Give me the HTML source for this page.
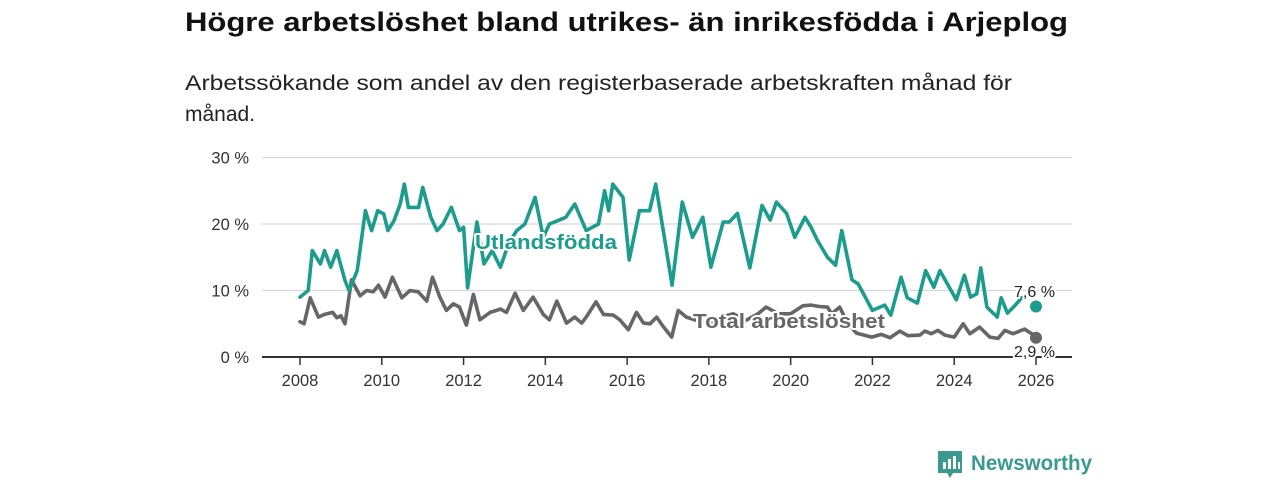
<!DOCTYPE html>
<html><head><meta charset="utf-8"><style>
html,body{margin:0;padding:0;background:#fff;}
svg{display:block;font-family:"Liberation Sans",sans-serif;}
</style></head><body>
<svg id="chart" width="1280" height="480" viewBox="0 0 1280 480">
<text x="185" y="31" font-size="27" font-weight="bold" fill="#111" textLength="883" lengthAdjust="spacingAndGlyphs">Högre arbetslöshet bland utrikes- än inrikesfödda i Arjeplog</text>
<text x="185" y="90" font-size="21" fill="#222" textLength="827" lengthAdjust="spacingAndGlyphs">Arbetssökande som andel av den registerbaserade arbetskraften månad för</text>
<text x="185" y="121" font-size="21" fill="#222">månad.</text>
<g id="grid"></g>
<g id="series"></g>
<g id="labels"></g>
<g>
<path d="M938 451 h24 v22 h-9 l-3 5 l-3 -5 h-9 z" fill="#3a9a8f"/>
<rect x="943" y="462" width="3" height="7" fill="#fff"/><rect x="948" y="459" width="3" height="10" fill="#fff"/><rect x="953" y="456" width="3" height="13" fill="#fff"/><rect x="958" y="462" width="2" height="7" fill="#fff"/>
<text x="971" y="470" font-size="21" font-weight="bold" fill="#3a9a8f" textLength="121" lengthAdjust="spacingAndGlyphs">Newsworthy</text>
</g>
</svg>
<script>
const yTicks=[0,10,20,30];
const yTickLabels=["0 %","10 %","20 %","30 %"];
const xTicks=[2008,2010,2012,2014,2016,2018,2020,2022,2024,2026];
const foreignX=[2008.0,2008.2,2008.3,2008.5,2008.6,2008.75,2008.9,2009.1,2009.2,2009.4,2009.6,2009.75,2009.9,2010.05,2010.15,2010.3,2010.45,2010.55,2010.65,2010.9,2011.0,2011.2,2011.35,2011.5,2011.7,2011.9,2012.0,2012.1,2012.33,2012.5,2012.7,2012.9,2013.1,2013.3,2013.5,2013.75,2013.95,2014.1,2014.3,2014.5,2014.72,2015.0,2015.3,2015.45,2015.55,2015.65,2015.9,2016.05,2016.3,2016.55,2016.7,2017.1,2017.35,2017.6,2017.85,2018.05,2018.35,2018.5,2018.7,2019.0,2019.3,2019.5,2019.65,2019.9,2020.1,2020.35,2020.5,2020.65,2020.9,2021.1,2021.25,2021.5,2021.65,2022.0,2022.3,2022.45,2022.7,2022.85,2023.1,2023.3,2023.5,2023.65,2024.05,2024.25,2024.4,2024.55,2024.65,2024.8,2025.05,2025.15,2025.3,2025.45,2025.65];
const foreignY=[9.0,10,16,14,16,13.5,16,11.5,10,13,22,19,22,21.5,19,20.5,23,26,22.5,22.5,25.5,21,19,20,22.5,19,19.5,10.4,20.3,14,16,13.5,17,19,20,24,18,20,20.5,21,23,19,20,25,22,26,24,14.6,22,22,26,10.8,23.3,18,21,13.5,20.3,20.3,21.6,13.4,22.8,20.6,23.3,21.6,18,21,19.5,17.6,15,13.8,19,11.6,11,7,7.8,6.3,12,8.9,8.1,13,10.5,13,8.6,12.3,9,9.5,13.4,7.5,6,8.9,6.6,7.5,8.9];
const totalX=[2008.0,2008.1,2008.25,2008.45,2008.6,2008.8,2008.9,2009.0,2009.1,2009.26,2009.47,2009.63,2009.79,2009.92,2010.08,2010.26,2010.49,2010.69,2010.89,2011.1,2011.24,2011.42,2011.58,2011.75,2011.9,2012.07,2012.24,2012.4,2012.65,2012.9,2013.05,2013.26,2013.46,2013.7,2013.95,2014.1,2014.28,2014.52,2014.72,2014.89,2015.0,2015.24,2015.42,2015.66,2015.82,2016.03,2016.23,2016.4,2016.56,2016.72,2016.88,2017.09,2017.25,2017.45,2017.7,2018.0,2018.3,2018.6,2018.9,2019.2,2019.4,2019.7,2020.0,2020.3,2020.5,2020.7,2020.9,2021.0,2021.2,2021.4,2021.61,2021.98,2022.22,2022.43,2022.67,2022.87,2023.16,2023.28,2023.44,2023.6,2023.77,2024.0,2024.22,2024.38,2024.62,2024.87,2025.07,2025.24,2025.44,2025.72,2025.92];
const totalY=[5.3,5,8.9,6,6.4,6.7,5.9,6.2,5,11.6,9.2,10,9.8,10.8,9,12,8.9,10,9.8,8.4,12,9,7,8,7.5,4.8,9.4,5.6,6.7,7.2,6.7,9.6,7,9,6.4,5.6,8.4,5.1,6,5.1,6,8.3,6.4,6.3,5.6,4.1,6.7,5.1,5,6,4.6,3,7,6,5.5,5,6,6.5,5.5,6.5,7.5,6.5,6.5,7.7,7.8,7.6,7.5,6.5,7.5,5,3.6,3.0,3.4,2.9,3.9,3.2,3.3,3.9,3.5,4.0,3.3,3.0,5.0,3.5,4.5,3.0,2.8,4.0,3.5,4.2,3.4];
const lastX=2026.0;
const lastForeign=7.6;
const lastTotal=2.9;
const lastForeignLabel="7,6 %";
const lastTotalLabel="2,9 %";

const NS="http://www.w3.org/2000/svg";
const x=v=>300+(v-2008)*(736/18);
const y=v=>357-v*6.65;
function mk(tag,attrs,parent){const e=document.createElementNS(NS,tag);for(const k in attrs)e.setAttribute(k,attrs[k]);parent.appendChild(e);return e;}
const grid=document.getElementById('grid'),ser=document.getElementById('series'),lab=document.getElementById('labels');
yTicks.forEach((t,i)=>{
  if(t>0){const l=mk('line',{x1:262,x2:1072,y1:y(t),y2:y(t),stroke:'#d8d8d8','stroke-width':1.3},grid);
  
  }
  const tx=mk('text',{x:249,y:y(t)+6,'font-size':16.5,fill:'#333','text-anchor':'end'},grid);
  tx.textContent=yTickLabels[i];
  
  
});
xTicks.forEach(t=>{
  const l=mk('line',{x1:x(t),x2:x(t),y1:357,y2:365,stroke:'#333','stroke-width':1.5},grid);
  
  
  const tx=mk('text',{x:x(t),y:386,'font-size':16.5,fill:'#333','text-anchor':'middle'},grid);
  tx.textContent=t;
  
  
});
function line(xs,ys,col,name){
  const d=xs.map((v,i)=>(i?'L':'M')+x(v).toFixed(1)+' '+y(ys[i]).toFixed(1)).join(' ');
  const p=mk('path',{d:d,fill:'none',stroke:col,'stroke-width':3.6,'stroke-linejoin':'round','stroke-linecap':'round'},ser);
  
  
}
line(totalX,totalY,'#67656a','total-unemployment-line');
line(foreignX,foreignY,'#1b9c8d','foreign-born-line');
const ax=mk('line',{x1:262,x2:1072,y1:357,y2:357,stroke:'#333','stroke-width':2},grid);


const d1=mk('circle',{cx:x(lastX),cy:y(lastForeign),r:6,fill:'#1b9c8d'},ser);


const d2=mk('circle',{cx:x(lastX),cy:y(lastTotal),r:6,fill:'#67656a'},ser);


function label(txt,xx,yy,col,size,bold,name,len){
  const a={x:xx,y:yy,'font-size':size,fill:col,'font-weight':bold?'bold':'normal',stroke:'#fff','stroke-width':4,'paint-order':'stroke','stroke-linejoin':'round'};
  if(len){a.textLength=len;a.lengthAdjust='spacingAndGlyphs';}
  const t=mk('text',a,lab);
  t.textContent=txt;
  
  
}
label('Utlandsfödda',475,249,'#1b9c8d',20,true,'foreign-born-series-label',142);
label('Total arbetslöshet',693,328,'#67656a',20,true,'total-series-label',192);
label(lastForeignLabel,1014,297,'#222',16,false,'foreign-born-last-value');
label(lastTotalLabel,1014,357,'#222',16,false,'total-last-value');
</script>
</body></html>
